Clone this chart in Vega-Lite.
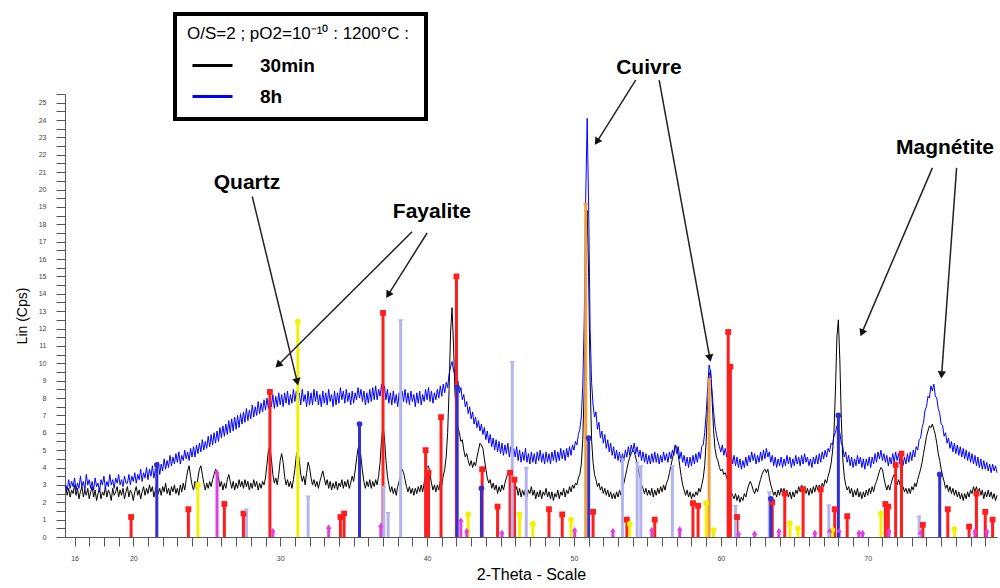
{
"$schema":"https://vega.github.io/schema/vega-lite/v6.json",
"width":932,"height":443,
"autosize":{"type":"none"},
"padding":{"left":65,"top":94,"right":3,"bottom":51},
"background":"white",
"config":{"font":"Liberation Sans","view":{"stroke":null}},
"datasets":{
"xrd":[
{"t":15.4,"b":2.9,"u":3.0},{"t":15.5,"b":2.4,"u":2.7},{"t":15.6,"b":2.8,"u":3.3},{"t":15.7,"b":2.3,"u":2.8},{"t":15.8,"b":2.7,"u":3.2},{"t":15.9,"b":2.5,"u":2.9},
{"t":16.0,"b":3.0,"u":3.4},{"t":16.1,"b":2.4,"u":2.7},{"t":16.2,"b":2.8,"u":3.1},{"t":16.3,"b":2.2,"u":2.8},{"t":16.4,"b":2.6,"u":3.5},{"t":16.5,"b":2.9,"u":2.9},{"t":16.6,"b":2.3,"u":3.2},{"t":16.7,"b":2.7,"u":2.7},{"t":16.8,"b":2.4,"u":3.6},{"t":16.9,"b":2.8,"u":3.0},
{"t":17.0,"b":2.2,"u":3.3},{"t":17.1,"b":2.6,"u":2.8},{"t":17.2,"b":2.9,"u":3.2},{"t":17.3,"b":2.3,"u":2.7},{"t":17.4,"b":2.7,"u":3.4},{"t":17.5,"b":2.1,"u":2.9},{"t":17.6,"b":2.5,"u":3.1},{"t":17.7,"b":2.8,"u":2.6},{"t":17.8,"b":2.2,"u":3.3},{"t":17.9,"b":2.6,"u":3.0},
{"t":18.0,"b":2.4,"u":3.5},{"t":18.1,"b":2.9,"u":2.8},{"t":18.2,"b":2.3,"u":3.2},{"t":18.3,"b":2.7,"u":2.9},{"t":18.4,"b":2.5,"u":3.6},{"t":18.5,"b":2.1,"u":3.0},{"t":18.6,"b":2.8,"u":3.3},{"t":18.7,"b":2.4,"u":2.8},{"t":18.8,"b":2.6,"u":3.4},{"t":18.9,"b":2.9,"u":3.1},
{"t":19.0,"b":2.3,"u":3.6},{"t":19.1,"b":2.7,"u":3.0},{"t":19.2,"b":2.4,"u":3.3},{"t":19.3,"b":2.8,"u":2.9},{"t":19.4,"b":2.2,"u":3.5},{"t":19.5,"b":2.6,"u":3.1},{"t":19.6,"b":2.9,"u":3.1},{"t":19.7,"b":2.3,"u":3.6},{"t":19.8,"b":2.7,"u":3.0},{"t":19.9,"b":2.5,"u":3.5},
{"t":20.0,"b":2.1,"u":3.2},{"t":20.1,"b":2.6,"u":3.7},{"t":20.2,"b":2.9,"u":3.1},{"t":20.3,"b":2.4,"u":3.6},{"t":20.4,"b":2.7,"u":3.3},{"t":20.5,"b":2.2,"u":3.9},{"t":20.6,"b":2.6,"u":3.2},{"t":20.7,"b":2.9,"u":3.7},{"t":20.8,"b":2.4,"u":3.4},{"t":20.9,"b":2.8,"u":4.0},
{"t":21.0,"b":2.5,"u":3.3},{"t":21.1,"b":3.0,"u":3.9},{"t":21.2,"b":2.6,"u":3.5},{"t":21.3,"b":2.9,"u":4.1},{"t":21.4,"b":2.3,"u":3.4},{"t":21.5,"b":2.7,"u":3.9},{"t":21.6,"b":3.1,"u":3.7},{"t":21.7,"b":2.5,"u":4.3},{"t":21.8,"b":2.8,"u":3.6},{"t":21.9,"b":2.4,"u":4.2},
{"t":22.0,"b":2.9,"u":3.8},{"t":22.1,"b":2.6,"u":4.5},{"t":22.2,"b":3.1,"u":3.9},{"t":22.3,"b":2.5,"u":4.4},{"t":22.4,"b":2.8,"u":4.0},{"t":22.5,"b":2.4,"u":4.7},{"t":22.6,"b":2.9,"u":4.1},{"t":22.7,"b":2.6,"u":4.6},{"t":22.8,"b":3.0,"u":4.2},{"t":22.9,"b":2.5,"u":4.8},
{"t":23.0,"b":2.8,"u":4.3},{"t":23.1,"b":2.4,"u":4.9},{"t":23.2,"b":3.0,"u":4.2},{"t":23.3,"b":2.6,"u":4.7},{"t":23.4,"b":3.1,"u":4.4},{"t":23.5,"b":2.7,"u":5.0},{"t":23.6,"b":3.3,"u":4.5},{"t":23.7,"b":3.8,"u":4.9},{"t":23.8,"b":4.1,"u":4.4},{"t":23.9,"b":3.5,"u":5.1},
{"t":24.0,"b":3.0,"u":4.6},{"t":24.1,"b":2.7,"u":5.2},{"t":24.2,"b":3.2,"u":4.6},{"t":24.3,"b":2.8,"u":5.3},{"t":24.4,"b":3.4,"u":4.8},{"t":24.5,"b":3.9,"u":5.4},{"t":24.6,"b":4.1,"u":4.9},{"t":24.7,"b":3.6,"u":5.6},{"t":24.8,"b":3.1,"u":5.0},{"t":24.9,"b":2.7,"u":5.5},
{"t":25.0,"b":3.1,"u":5.1},{"t":25.1,"b":2.8,"u":5.8},{"t":25.2,"b":3.2,"u":5.2},{"t":25.3,"b":2.9,"u":5.9},{"t":25.4,"b":3.3,"u":5.3},{"t":25.5,"b":3.6,"u":6.0},{"t":25.6,"b":3.9,"u":5.4},{"t":25.7,"b":3.8,"u":6.1},{"t":25.8,"b":3.4,"u":5.5},{"t":25.9,"b":2.9,"u":6.3},
{"t":26.0,"b":3.2,"u":5.7},{"t":26.1,"b":2.7,"u":6.4},{"t":26.2,"b":3.1,"u":5.8},{"t":26.3,"b":2.8,"u":6.5},{"t":26.4,"b":3.3,"u":5.9},{"t":26.5,"b":3.6,"u":6.7},{"t":26.6,"b":3.2,"u":6.0},{"t":26.7,"b":2.8,"u":6.8},{"t":26.8,"b":3.2,"u":6.1},{"t":26.9,"b":2.7,"u":6.9},
{"t":27.0,"b":3.1,"u":6.2},{"t":27.1,"b":2.8,"u":7.0},{"t":27.2,"b":3.3,"u":6.3},{"t":27.3,"b":2.9,"u":7.1},{"t":27.4,"b":3.2,"u":6.5},{"t":27.5,"b":2.8,"u":7.2},{"t":27.6,"b":3.3,"u":6.6},{"t":27.7,"b":2.9,"u":7.4},{"t":27.8,"b":3.2,"u":6.7},{"t":27.9,"b":2.7,"u":7.3},
{"t":28.0,"b":3.1,"u":6.8},{"t":28.1,"b":2.8,"u":7.6},{"t":28.2,"b":3.3,"u":6.9},{"t":28.3,"b":2.9,"u":7.5},{"t":28.4,"b":3.2,"u":7.0},{"t":28.5,"b":2.7,"u":7.8},{"t":28.6,"b":3.1,"u":7.1},{"t":28.7,"b":2.8,"u":7.7},{"t":28.8,"b":3.2,"u":7.2},{"t":28.9,"b":3.0,"u":7.9},
{"t":29.0,"b":3.4,"u":7.3},{"t":29.1,"b":4.2,"u":8.0},{"t":29.2,"b":5.0,"u":7.4},{"t":29.3,"b":5.2,"u":8.1},{"t":29.4,"b":4.5,"u":7.5},{"t":29.5,"b":3.6,"u":8.2},{"t":29.6,"b":3.1,"u":7.4},{"t":29.7,"b":3.4,"u":8.1},{"t":29.8,"b":3.0,"u":7.5},{"t":29.9,"b":3.6,"u":8.3},
{"t":30.0,"b":4.4,"u":7.6},{"t":30.1,"b":4.8,"u":8.2},{"t":30.2,"b":4.3,"u":7.5},{"t":30.3,"b":3.5,"u":8.3},{"t":30.4,"b":3.0,"u":7.7},{"t":30.5,"b":3.3,"u":8.4},{"t":30.6,"b":2.9,"u":7.6},{"t":30.7,"b":3.2,"u":8.2},{"t":30.8,"b":2.8,"u":7.7},{"t":30.9,"b":3.3,"u":8.5},
{"t":31.0,"b":3.9,"u":7.8},{"t":31.1,"b":4.7,"u":8.4},{"t":31.2,"b":5.0,"u":7.7},{"t":31.3,"b":4.4,"u":8.3},{"t":31.4,"b":3.6,"u":7.6},{"t":31.5,"b":3.2,"u":8.5},{"t":31.6,"b":3.5,"u":7.8},{"t":31.7,"b":3.0,"u":8.2},{"t":31.8,"b":3.7,"u":7.5},{"t":31.9,"b":4.3,"u":8.4},
{"t":32.0,"b":4.0,"u":7.6},{"t":32.1,"b":3.4,"u":8.3},{"t":32.2,"b":3.0,"u":7.6},{"t":32.3,"b":3.3,"u":8.5},{"t":32.4,"b":2.9,"u":7.8},{"t":32.5,"b":3.2,"u":8.4},{"t":32.6,"b":2.8,"u":7.6},{"t":32.7,"b":3.2,"u":8.2},{"t":32.8,"b":3.5,"u":7.5},{"t":32.9,"b":3.8,"u":8.4},
{"t":33.0,"b":3.4,"u":7.7},{"t":33.1,"b":3.0,"u":8.3},{"t":33.2,"b":3.3,"u":7.6},{"t":33.3,"b":2.8,"u":8.5},{"t":33.4,"b":3.2,"u":7.8},{"t":33.5,"b":2.7,"u":8.2},{"t":33.6,"b":3.1,"u":7.5},{"t":33.7,"b":2.8,"u":8.4},{"t":33.8,"b":3.2,"u":7.6},{"t":33.9,"b":2.7,"u":8.3},
{"t":34.0,"b":3.1,"u":7.7},{"t":34.1,"b":2.9,"u":8.6},{"t":34.2,"b":3.3,"u":7.9},{"t":34.3,"b":2.8,"u":8.4},{"t":34.4,"b":3.2,"u":7.7},{"t":34.5,"b":2.9,"u":8.5},{"t":34.6,"b":3.3,"u":7.8},{"t":34.7,"b":2.8,"u":8.3},{"t":34.8,"b":3.1,"u":7.6},{"t":34.9,"b":3.5,"u":8.4},
{"t":35.0,"b":3.2,"u":7.7},{"t":35.1,"b":3.8,"u":8.3},{"t":35.2,"b":4.5,"u":7.9},{"t":35.3,"b":5.1,"u":8.6},{"t":35.4,"b":5.3,"u":8.0},{"t":35.5,"b":4.6,"u":8.5},{"t":35.6,"b":3.8,"u":7.8},{"t":35.7,"b":3.2,"u":8.4},{"t":35.8,"b":2.8,"u":7.6},{"t":35.9,"b":3.2,"u":8.3},
{"t":36.0,"b":2.9,"u":7.7},{"t":36.1,"b":3.3,"u":8.5},{"t":36.2,"b":2.8,"u":7.8},{"t":36.3,"b":3.2,"u":8.6},{"t":36.4,"b":2.9,"u":7.9},{"t":36.5,"b":3.3,"u":8.7},{"t":36.6,"b":3.0,"u":7.9},{"t":36.7,"b":3.5,"u":8.5},{"t":36.8,"b":4.3,"u":8.1},{"t":36.9,"b":5.6,"u":8.8},
{"t":37.0,"b":6.4,"u":8.2},{"t":37.1,"b":5.7,"u":8.7},{"t":37.2,"b":4.4,"u":7.9},{"t":37.3,"b":3.5,"u":8.5},{"t":37.4,"b":3.0,"u":7.7},{"t":37.5,"b":2.6,"u":8.3},{"t":37.6,"b":2.9,"u":7.6},{"t":37.7,"b":2.5,"u":8.4},{"t":37.8,"b":2.8,"u":7.7},{"t":37.9,"b":2.4,"u":8.2},
{"t":38.0,"b":2.9,"u":7.5},{"t":38.1,"b":3.2,"u":8.3},{"t":38.2,"b":3.6,"u":7.6},{"t":38.3,"b":3.9,"u":8.4},{"t":38.4,"b":3.7,"u":7.8},{"t":38.5,"b":3.3,"u":8.5},{"t":38.6,"b":2.9,"u":7.7},{"t":38.7,"b":2.6,"u":8.3},{"t":38.8,"b":2.9,"u":7.6},{"t":38.9,"b":2.5,"u":8.4},
{"t":39.0,"b":2.8,"u":7.8},{"t":39.1,"b":2.4,"u":8.2},{"t":39.2,"b":2.8,"u":7.5},{"t":39.3,"b":2.5,"u":8.3},{"t":39.4,"b":2.9,"u":7.7},{"t":39.5,"b":2.6,"u":8.4},{"t":39.6,"b":3.0,"u":7.6},{"t":39.7,"b":2.6,"u":8.2},{"t":39.8,"b":3.1,"u":7.8},{"t":39.9,"b":3.6,"u":8.5},
{"t":40.0,"b":4.0,"u":7.9},{"t":40.1,"b":4.1,"u":8.6},{"t":40.2,"b":3.6,"u":7.8},{"t":40.3,"b":3.1,"u":8.4},{"t":40.4,"b":2.7,"u":7.7},{"t":40.5,"b":3.0,"u":8.3},{"t":40.6,"b":2.6,"u":7.9},{"t":40.7,"b":3.0,"u":8.5},{"t":40.8,"b":2.7,"u":8.0},{"t":40.9,"b":3.2,"u":8.7},
{"t":41.0,"b":3.0,"u":8.1},{"t":41.1,"b":3.5,"u":8.8},{"t":41.2,"b":3.9,"u":8.3},{"t":41.3,"b":4.6,"u":8.9},{"t":41.4,"b":6.0,"u":8.6},{"t":41.5,"b":8.5,"u":9.4},{"t":41.6,"b":11.8,"u":9.8},{"t":41.7,"b":13.2,"u":10.1},{"t":41.8,"b":11.0,"u":9.6},{"t":41.9,"b":8.3,"u":9.3},
{"t":42.0,"b":6.8,"u":8.7},{"t":42.1,"b":6.3,"u":9.0},{"t":42.2,"b":6.0,"u":8.3},{"t":42.3,"b":5.5,"u":8.6},{"t":42.4,"b":5.6,"u":7.9},{"t":42.5,"b":5.0,"u":8.2},{"t":42.6,"b":4.6,"u":7.5},{"t":42.7,"b":4.8,"u":7.8},{"t":42.8,"b":4.4,"u":7.1},{"t":42.9,"b":4.1,"u":7.5},
{"t":43.0,"b":4.4,"u":6.8},{"t":43.1,"b":4.0,"u":7.2},{"t":43.2,"b":4.3,"u":6.5},{"t":43.3,"b":4.1,"u":6.9},{"t":43.4,"b":4.6,"u":6.3},{"t":43.5,"b":5.0,"u":6.7},{"t":43.6,"b":5.4,"u":6.1},{"t":43.7,"b":5.3,"u":6.5},{"t":43.8,"b":5.1,"u":5.9},{"t":43.9,"b":4.5,"u":6.3},
{"t":44.0,"b":3.9,"u":5.6},{"t":44.1,"b":3.4,"u":6.1},{"t":44.2,"b":3.1,"u":5.4},{"t":44.3,"b":3.3,"u":5.9},{"t":44.4,"b":2.8,"u":5.2},{"t":44.5,"b":3.1,"u":5.7},{"t":44.6,"b":2.7,"u":5.0},{"t":44.7,"b":3.0,"u":5.6},{"t":44.8,"b":2.5,"u":4.9},{"t":44.9,"b":2.9,"u":5.5},
{"t":45.0,"b":2.6,"u":4.8},{"t":45.1,"b":3.0,"u":5.4},{"t":45.2,"b":2.7,"u":4.7},{"t":45.3,"b":3.1,"u":5.3},{"t":45.4,"b":3.4,"u":4.8},{"t":45.5,"b":3.7,"u":5.4},{"t":45.6,"b":3.6,"u":4.6},{"t":45.7,"b":3.2,"u":5.2},{"t":45.8,"b":2.8,"u":4.5},{"t":45.9,"b":3.1,"u":5.1},
{"t":46.0,"b":2.6,"u":4.6},{"t":46.1,"b":2.9,"u":5.2},{"t":46.2,"b":2.4,"u":4.4},{"t":46.3,"b":2.8,"u":5.0},{"t":46.4,"b":2.3,"u":4.3},{"t":46.5,"b":2.7,"u":4.9},{"t":46.6,"b":2.4,"u":4.4},{"t":46.7,"b":2.8,"u":5.1},{"t":46.8,"b":2.3,"u":4.3},{"t":46.9,"b":2.7,"u":4.8},
{"t":47.0,"b":2.5,"u":4.2},{"t":47.1,"b":2.9,"u":4.9},{"t":47.2,"b":2.4,"u":4.3},{"t":47.3,"b":2.7,"u":4.8},{"t":47.4,"b":2.2,"u":4.2},{"t":47.5,"b":2.6,"u":4.9},{"t":47.6,"b":2.3,"u":4.4},{"t":47.7,"b":2.7,"u":5.0},{"t":47.8,"b":2.2,"u":4.3},{"t":47.9,"b":2.6,"u":4.8},
{"t":48.0,"b":2.4,"u":4.2},{"t":48.1,"b":2.8,"u":4.9},{"t":48.2,"b":2.3,"u":4.3},{"t":48.3,"b":2.6,"u":4.8},{"t":48.4,"b":2.2,"u":4.2},{"t":48.5,"b":2.6,"u":4.9},{"t":48.6,"b":2.1,"u":4.4},{"t":48.7,"b":2.5,"u":5.0},{"t":48.8,"b":2.3,"u":4.3},{"t":48.9,"b":2.7,"u":4.9},
{"t":49.0,"b":2.2,"u":4.4},{"t":49.1,"b":2.6,"u":5.1},{"t":49.2,"b":2.4,"u":4.5},{"t":49.3,"b":2.8,"u":5.0},{"t":49.4,"b":2.3,"u":4.4},{"t":49.5,"b":2.7,"u":5.1},{"t":49.6,"b":2.5,"u":4.6},{"t":49.7,"b":2.9,"u":5.2},{"t":49.8,"b":2.6,"u":4.7},{"t":49.9,"b":3.0,"u":5.3},
{"t":50.0,"b":2.8,"u":5.0},{"t":50.1,"b":3.1,"u":5.5},{"t":50.2,"b":3.0,"u":5.3},{"t":50.3,"b":3.4,"u":5.9},{"t":50.4,"b":3.6,"u":6.2},{"t":50.5,"b":4.2,"u":6.9},{"t":50.6,"b":5.6,"u":8.7},{"t":50.7,"b":8.6,"u":12.5},{"t":50.8,"b":14.5,"u":19.5},{"t":50.9,"b":18.8,"u":24.1},
{"t":51.0,"b":15.0,"u":19.0},{"t":51.1,"b":9.0,"u":12.0},{"t":51.2,"b":5.6,"u":8.9},{"t":51.3,"b":4.3,"u":7.6},{"t":51.4,"b":3.6,"u":6.9},{"t":51.5,"b":3.3,"u":7.2},{"t":51.6,"b":2.9,"u":6.2},{"t":51.7,"b":3.1,"u":6.6},{"t":51.8,"b":2.7,"u":5.7},{"t":51.9,"b":2.9,"u":6.1},
{"t":52.0,"b":2.5,"u":5.4},{"t":52.1,"b":2.8,"u":5.9},{"t":52.2,"b":2.4,"u":5.1},{"t":52.3,"b":2.7,"u":5.6},{"t":52.4,"b":2.3,"u":4.9},{"t":52.5,"b":2.6,"u":5.4},{"t":52.6,"b":2.2,"u":4.7},{"t":52.7,"b":2.5,"u":5.2},{"t":52.8,"b":2.2,"u":4.5},{"t":52.9,"b":2.6,"u":5.0},
{"t":53.0,"b":2.3,"u":4.4},{"t":53.1,"b":2.7,"u":4.9},{"t":53.2,"b":2.4,"u":4.3},{"t":53.3,"b":2.8,"u":4.8},{"t":53.4,"b":3.1,"u":4.4},{"t":53.5,"b":3.5,"u":5.0},{"t":53.6,"b":3.9,"u":4.6},{"t":53.7,"b":4.3,"u":5.2},{"t":53.8,"b":4.6,"u":4.7},{"t":53.9,"b":4.8,"u":5.3},
{"t":54.0,"b":5.0,"u":4.9},{"t":54.1,"b":4.9,"u":5.4},{"t":54.2,"b":4.6,"u":4.8},{"t":54.3,"b":4.2,"u":5.2},{"t":54.4,"b":3.8,"u":4.6},{"t":54.5,"b":3.4,"u":5.0},{"t":54.6,"b":3.0,"u":4.4},{"t":54.7,"b":2.8,"u":4.9},{"t":54.8,"b":2.5,"u":4.3},{"t":54.9,"b":2.8,"u":4.8},
{"t":55.0,"b":2.4,"u":4.2},{"t":55.1,"b":2.7,"u":4.7},{"t":55.2,"b":2.4,"u":4.2},{"t":55.3,"b":2.8,"u":4.8},{"t":55.4,"b":2.3,"u":4.3},{"t":55.5,"b":2.7,"u":4.9},{"t":55.6,"b":2.4,"u":4.3},{"t":55.7,"b":2.8,"u":4.8},{"t":55.8,"b":2.5,"u":4.2},{"t":55.9,"b":2.9,"u":4.7},
{"t":56.0,"b":2.6,"u":4.3},{"t":56.1,"b":3.0,"u":4.9},{"t":56.2,"b":2.7,"u":4.4},{"t":56.3,"b":3.1,"u":4.8},{"t":56.4,"b":3.3,"u":4.3},{"t":56.5,"b":3.7,"u":4.9},{"t":56.6,"b":4.1,"u":4.5},{"t":56.7,"b":4.5,"u":5.0},{"t":56.8,"b":4.9,"u":4.7},{"t":56.9,"b":5.3,"u":5.3},
{"t":57.0,"b":5.2,"u":4.8},{"t":57.1,"b":4.7,"u":5.2},{"t":57.2,"b":4.1,"u":4.5},{"t":57.3,"b":3.5,"u":4.9},{"t":57.4,"b":3.0,"u":4.3},{"t":57.5,"b":2.7,"u":4.7},{"t":57.6,"b":2.4,"u":4.1},{"t":57.7,"b":2.7,"u":4.6},{"t":57.8,"b":2.3,"u":4.0},{"t":57.9,"b":2.6,"u":4.6},
{"t":58.0,"b":2.2,"u":4.1},{"t":58.1,"b":2.5,"u":4.7},{"t":58.2,"b":2.3,"u":4.2},{"t":58.3,"b":2.6,"u":4.8},{"t":58.4,"b":2.4,"u":4.3},{"t":58.5,"b":2.8,"u":4.9},{"t":58.6,"b":2.6,"u":4.5},{"t":58.7,"b":3.0,"u":5.2},{"t":58.8,"b":3.4,"u":5.3},{"t":58.9,"b":4.1,"u":6.0},
{"t":59.0,"b":5.5,"u":7.1},{"t":59.1,"b":7.6,"u":8.6},{"t":59.2,"b":9.3,"u":9.9},{"t":59.3,"b":9.6,"u":9.5},{"t":59.4,"b":8.0,"u":8.4},{"t":59.5,"b":6.2,"u":7.3},{"t":59.6,"b":5.1,"u":6.4},{"t":59.7,"b":4.6,"u":5.9},{"t":59.8,"b":4.4,"u":5.5},{"t":59.9,"b":4.0,"u":5.2},
{"t":60.0,"b":3.8,"u":4.9},{"t":60.1,"b":3.9,"u":5.3},{"t":60.2,"b":3.6,"u":4.7},{"t":60.3,"b":3.7,"u":5.1},{"t":60.4,"b":3.4,"u":4.6},{"t":60.5,"b":3.2,"u":5.0},{"t":60.6,"b":2.9,"u":4.3},{"t":60.7,"b":2.6,"u":4.8},{"t":60.8,"b":2.4,"u":4.2},{"t":60.9,"b":2.2,"u":4.7},
{"t":61.0,"b":2.5,"u":4.1},{"t":61.1,"b":2.1,"u":4.6},{"t":61.2,"b":2.4,"u":4.0},{"t":61.3,"b":2.0,"u":4.5},{"t":61.4,"b":2.3,"u":3.9},{"t":61.5,"b":2.1,"u":4.4},{"t":61.6,"b":2.5,"u":4.0},{"t":61.7,"b":2.3,"u":4.6},{"t":61.8,"b":2.7,"u":4.1},{"t":61.9,"b":3.0,"u":4.7},
{"t":62.0,"b":3.2,"u":4.3},{"t":62.1,"b":3.0,"u":4.9},{"t":62.2,"b":2.7,"u":4.4},{"t":62.3,"b":2.5,"u":4.8},{"t":62.4,"b":2.8,"u":4.2},{"t":62.5,"b":2.6,"u":4.7},{"t":62.6,"b":3.0,"u":4.3},{"t":62.7,"b":3.3,"u":4.9},{"t":62.8,"b":3.6,"u":4.4},{"t":62.9,"b":3.8,"u":5.0},
{"t":63.0,"b":3.9,"u":4.5},{"t":63.1,"b":3.7,"u":5.1},{"t":63.2,"b":3.9,"u":4.6},{"t":63.3,"b":3.4,"u":4.9},{"t":63.4,"b":3.0,"u":4.3},{"t":63.5,"b":2.7,"u":4.7},{"t":63.6,"b":2.4,"u":4.1},{"t":63.7,"b":2.6,"u":4.6},{"t":63.8,"b":2.3,"u":4.0},{"t":63.9,"b":2.7,"u":4.5},
{"t":64.0,"b":2.4,"u":4.1},{"t":64.1,"b":2.8,"u":4.6},{"t":64.2,"b":2.5,"u":4.0},{"t":64.3,"b":2.8,"u":4.5},{"t":64.4,"b":2.4,"u":4.1},{"t":64.5,"b":2.7,"u":4.7},{"t":64.6,"b":2.3,"u":4.2},{"t":64.7,"b":2.6,"u":4.6},{"t":64.8,"b":2.2,"u":4.0},{"t":64.9,"b":2.6,"u":4.5},
{"t":65.0,"b":2.3,"u":4.1},{"t":65.1,"b":2.7,"u":4.7},{"t":65.2,"b":2.5,"u":4.2},{"t":65.3,"b":2.9,"u":4.6},{"t":65.4,"b":2.6,"u":4.1},{"t":65.5,"b":3.0,"u":4.7},{"t":65.6,"b":2.7,"u":4.2},{"t":65.7,"b":2.9,"u":4.8},{"t":65.8,"b":2.5,"u":4.3},{"t":65.9,"b":2.8,"u":4.6},
{"t":66.0,"b":2.4,"u":4.1},{"t":66.1,"b":2.8,"u":4.5},{"t":66.2,"b":2.5,"u":4.0},{"t":66.3,"b":2.9,"u":4.6},{"t":66.4,"b":2.6,"u":4.2},{"t":66.5,"b":3.0,"u":4.7},{"t":66.6,"b":2.7,"u":4.2},{"t":66.7,"b":3.0,"u":4.8},{"t":66.8,"b":2.7,"u":4.3},{"t":66.9,"b":3.1,"u":4.9},
{"t":67.0,"b":2.9,"u":4.5},{"t":67.1,"b":3.3,"u":5.0},{"t":67.2,"b":3.1,"u":4.6},{"t":67.3,"b":3.5,"u":5.1},{"t":67.4,"b":3.8,"u":4.9},{"t":67.5,"b":4.2,"u":5.4},{"t":67.6,"b":4.9,"u":5.3},{"t":67.7,"b":6.0,"u":5.8},{"t":67.8,"b":8.4,"u":6.0},{"t":67.9,"b":11.5,"u":6.4},
{"t":68.0,"b":12.5,"u":6.2},{"t":68.1,"b":10.2,"u":6.0},{"t":68.2,"b":6.8,"u":5.4},{"t":68.3,"b":4.5,"u":5.2},{"t":68.4,"b":3.5,"u":4.6},{"t":68.5,"b":3.0,"u":4.9},{"t":68.6,"b":2.7,"u":4.3},{"t":68.7,"b":2.9,"u":4.7},{"t":68.8,"b":2.5,"u":4.1},{"t":68.9,"b":2.8,"u":4.6},
{"t":69.0,"b":2.3,"u":4.0},{"t":69.1,"b":2.7,"u":4.5},{"t":69.2,"b":2.4,"u":4.1},{"t":69.3,"b":2.8,"u":4.7},{"t":69.4,"b":2.3,"u":4.2},{"t":69.5,"b":2.6,"u":4.6},{"t":69.6,"b":2.2,"u":4.0},{"t":69.7,"b":2.6,"u":4.5},{"t":69.8,"b":2.3,"u":3.9},{"t":69.9,"b":2.7,"u":4.5},
{"t":70.0,"b":2.4,"u":4.1},{"t":70.1,"b":2.8,"u":4.6},{"t":70.2,"b":2.5,"u":4.0},{"t":70.3,"b":2.9,"u":4.6},{"t":70.4,"b":2.6,"u":4.2},{"t":70.5,"b":3.0,"u":4.8},{"t":70.6,"b":3.2,"u":4.3},{"t":70.7,"b":3.5,"u":4.9},{"t":70.8,"b":3.8,"u":4.5},{"t":70.9,"b":4.0,"u":5.0},
{"t":71.0,"b":3.9,"u":4.4},{"t":71.1,"b":3.4,"u":4.8},{"t":71.2,"b":3.0,"u":4.3},{"t":71.3,"b":2.7,"u":4.7},{"t":71.4,"b":3.0,"u":4.1},{"t":71.5,"b":2.7,"u":4.6},{"t":71.6,"b":3.1,"u":4.2},{"t":71.7,"b":3.4,"u":4.8},{"t":71.8,"b":3.6,"u":4.3},{"t":71.9,"b":3.4,"u":4.9},
{"t":72.0,"b":3.0,"u":4.4},{"t":72.1,"b":3.3,"u":4.8},{"t":72.2,"b":3.0,"u":4.2},{"t":72.3,"b":2.7,"u":4.7},{"t":72.4,"b":2.9,"u":4.1},{"t":72.5,"b":2.6,"u":4.6},{"t":72.6,"b":2.8,"u":4.2},{"t":72.7,"b":2.5,"u":4.8},{"t":72.8,"b":2.8,"u":4.3},{"t":72.9,"b":2.5,"u":4.9},
{"t":73.0,"b":2.9,"u":4.4},{"t":73.1,"b":2.7,"u":5.0},{"t":73.2,"b":3.1,"u":4.6},{"t":73.3,"b":2.9,"u":5.2},{"t":73.4,"b":3.3,"u":5.0},{"t":73.5,"b":3.6,"u":5.6},{"t":73.6,"b":3.9,"u":5.7},{"t":73.7,"b":4.3,"u":6.3},{"t":73.8,"b":4.8,"u":6.6},{"t":73.9,"b":5.3,"u":7.3},
{"t":74.0,"b":5.8,"u":7.5},{"t":74.1,"b":6.1,"u":8.1},{"t":74.2,"b":6.4,"u":8.0},{"t":74.3,"b":6.3,"u":8.7},{"t":74.4,"b":6.5,"u":8.4},{"t":74.5,"b":6.2,"u":8.8},{"t":74.6,"b":5.9,"u":8.1},{"t":74.7,"b":5.4,"u":8.0},{"t":74.8,"b":4.8,"u":7.4},{"t":74.9,"b":4.4,"u":7.1},
{"t":75.0,"b":3.9,"u":6.5},{"t":75.1,"b":3.5,"u":6.4},{"t":75.2,"b":3.2,"u":5.8},{"t":75.3,"b":2.8,"u":6.0},{"t":75.4,"b":3.0,"u":5.4},{"t":75.5,"b":2.6,"u":5.7},{"t":75.6,"b":2.9,"u":5.1},{"t":75.7,"b":2.5,"u":5.5},{"t":75.8,"b":2.8,"u":4.9},{"t":75.9,"b":2.4,"u":5.4},
{"t":76.0,"b":2.7,"u":4.8},{"t":76.1,"b":2.3,"u":5.3},{"t":76.2,"b":2.6,"u":4.7},{"t":76.3,"b":2.2,"u":5.2},{"t":76.4,"b":2.5,"u":4.6},{"t":76.5,"b":2.1,"u":5.1},{"t":76.6,"b":2.5,"u":4.5},{"t":76.7,"b":2.2,"u":5.0},{"t":76.8,"b":2.6,"u":4.4},{"t":76.9,"b":2.3,"u":4.9},
{"t":77.0,"b":2.7,"u":4.3},{"t":77.1,"b":2.5,"u":4.8},{"t":77.2,"b":2.9,"u":4.2},{"t":77.3,"b":2.6,"u":4.7},{"t":77.4,"b":2.9,"u":4.1},{"t":77.5,"b":2.5,"u":4.6},{"t":77.6,"b":2.8,"u":4.0},{"t":77.7,"b":2.4,"u":4.5},{"t":77.8,"b":2.7,"u":3.9},{"t":77.9,"b":2.2,"u":4.4},
{"t":78.0,"b":2.6,"u":3.9},{"t":78.1,"b":2.3,"u":4.3},{"t":78.2,"b":2.7,"u":3.8},{"t":78.3,"b":2.3,"u":4.2},{"t":78.4,"b":2.6,"u":3.7},{"t":78.5,"b":2.2,"u":4.2},{"t":78.6,"b":2.5,"u":3.8},{"t":78.7,"b":2.1,"u":4.1},{"t":78.8,"b":2.4,"u":3.7}
],
"sticks":[
{"t":19.85,"h":1.15,"p":"fayalite"},{"t":23.75,"h":1.6,"p":"fayalite"},{"t":26.2,"h":1.9,"p":"fayalite"},{"t":27.5,"h":1.35,"p":"fayalite"},{"t":29.3,"h":8.35,"p":"fayalite"},{"t":34.1,"h":1.15,"p":"fayalite"},{"t":34.35,"h":1.35,"p":"fayalite"},{"t":37.0,"h":12.9,"p":"fayalite"},{"t":39.9,"h":5.0,"p":"fayalite"},{"t":40.1,"h":3.7,"p":"fayalite"},{"t":40.95,"h":6.9,"p":"fayalite"},{"t":42.0,"h":15.0,"p":"fayalite"},{"t":43.75,"h":3.9,"p":"fayalite"},{"t":44.8,"h":1.75,"p":"fayalite"},{"t":45.65,"h":3.7,"p":"fayalite"},{"t":45.95,"h":3.3,"p":"fayalite"},{"t":48.3,"h":1.6,"p":"fayalite"},{"t":49.2,"h":1.3,"p":"fayalite"},{"t":51.3,"h":1.45,"p":"fayalite"},{"t":53.6,"h":1.0,"p":"fayalite"},{"t":55.5,"h":1.0,"p":"fayalite"},{"t":58.1,"h":1.95,"p":"fayalite"},{"t":58.45,"h":1.8,"p":"fayalite"},{"t":60.5,"h":11.8,"p":"fayalite"},{"t":60.65,"h":9.8,"p":"fayalite"},{"t":61.1,"h":1.15,"p":"fayalite"},{"t":63.5,"h":2.0,"p":"fayalite"},{"t":64.35,"h":2.5,"p":"fayalite"},{"t":65.6,"h":2.75,"p":"fayalite"},{"t":66.8,"h":2.75,"p":"fayalite"},{"t":67.75,"h":1.6,"p":"fayalite"},{"t":68.6,"h":1.2,"p":"fayalite"},{"t":71.2,"h":1.9,"p":"fayalite"},{"t":71.4,"h":1.75,"p":"fayalite"},{"t":71.9,"h":4.15,"p":"fayalite"},{"t":72.3,"h":4.8,"p":"fayalite"},{"t":73.75,"h":0.7,"p":"fayalite"},{"t":75.45,"h":1.6,"p":"fayalite"},{"t":76.9,"h":0.6,"p":"fayalite"},{"t":77.4,"h":2.5,"p":"fayalite"},{"t":78.0,"h":1.45,"p":"fayalite"},{"t":78.5,"h":1.0,"p":"fayalite"},
{"t":24.4,"h":3.0,"p":"quartz"},{"t":31.2,"h":12.4,"p":"quartz"},{"t":42.8,"h":1.3,"p":"quartz"},{"t":46.3,"h":1.3,"p":"quartz"},{"t":47.2,"h":0.75,"p":"quartz"},{"t":49.8,"h":1.0,"p":"quartz"},{"t":53.8,"h":0.75,"p":"quartz"},{"t":59.0,"h":1.95,"p":"quartz"},{"t":59.5,"h":0.4,"p":"quartz"},{"t":64.7,"h":0.8,"p":"quartz"},{"t":65.25,"h":0.5,"p":"quartz"},{"t":67.6,"h":0.4,"p":"quartz"},{"t":70.9,"h":1.35,"p":"quartz"},{"t":75.9,"h":0.45,"p":"quartz"},
{"t":25.7,"h":3.75,"p":"phaseA"},{"t":29.5,"h":0.4,"p":"phaseA"},{"t":33.3,"h":0.6,"p":"phaseA"},{"t":36.85,"h":0.7,"p":"phaseA"},{"t":42.3,"h":1.0,"p":"phaseA"},{"t":42.7,"h":0.4,"p":"phaseA"},{"t":45.1,"h":0.3,"p":"phaseA"},{"t":50.05,"h":0.45,"p":"phaseA"},{"t":52.65,"h":0.4,"p":"phaseA"},{"t":55.3,"h":0.45,"p":"phaseA"},{"t":57.2,"h":0.5,"p":"phaseA"},{"t":61.2,"h":0.25,"p":"phaseA"},{"t":62.3,"h":0.25,"p":"phaseA"},{"t":63.95,"h":0.4,"p":"phaseA"},{"t":66.4,"h":0.3,"p":"phaseA"},{"t":67.4,"h":0.4,"p":"phaseA"},{"t":68.05,"h":0.4,"p":"phaseA"},{"t":69.4,"h":0.3,"p":"phaseA"},{"t":69.65,"h":0.3,"p":"phaseA"},{"t":71.45,"h":0.4,"p":"phaseA"},{"t":73.6,"h":0.3,"p":"phaseA"},{"t":77.3,"h":0.4,"p":"phaseA"},{"t":78.1,"h":0.4,"p":"phaseA"},
{"t":27.7,"h":1.5,"p":"phaseB"},{"t":31.9,"h":2.25,"p":"phaseB"},{"t":37.05,"h":2.8,"p":"phaseB"},{"t":37.35,"h":1.3,"p":"phaseB"},{"t":38.2,"h":12.4,"p":"phaseB"},{"t":45.8,"h":10.0,"p":"phaseB"},{"t":46.75,"h":3.9,"p":"phaseB"},{"t":53.3,"h":4.4,"p":"phaseB"},{"t":54.3,"h":4.2,"p":"phaseB"},{"t":54.55,"h":4.0,"p":"phaseB"},{"t":56.7,"h":4.0,"p":"phaseB"},{"t":61.0,"h":1.7,"p":"phaseB"},{"t":63.3,"h":2.5,"p":"phaseB"},{"t":67.35,"h":1.75,"p":"phaseB"},{"t":73.5,"h":1.1,"p":"phaseB"},
{"t":21.6,"h":4.15,"p":"magnetite"},{"t":35.4,"h":6.5,"p":"magnetite"},{"t":42.05,"h":8.6,"p":"magnetite"},{"t":43.7,"h":2.8,"p":"magnetite"},{"t":51.0,"h":5.7,"p":"magnetite"},{"t":63.4,"h":2.2,"p":"magnetite"},{"t":68.0,"h":7.0,"p":"magnetite"},{"t":74.9,"h":3.6,"p":"magnetite"},
{"t":50.8,"h":19.1,"p":"cuivre"},{"t":59.2,"h":9.0,"p":"cuivre"}
],
"notes":[
{"lab":"Quartz","t":27.74,"y":20.38},
{"lab":"Fayalite","t":40.33,"y":18.71},
{"lab":"Cuivre","t":55.1,"y":27.0},
{"lab":"Magnétite","t":75.26,"y":22.39}
],
"arrows":[
{"t":28.1,"y":19.6,"t2":31.16,"y2":8.93},
{"t":38.98,"y":17.57,"t2":29.86,"y2":9.9},
{"t":40.0,"y":17.5,"t2":37.35,"y2":13.94},
{"t":54.2,"y":26.3,"t2":51.56,"y2":22.75},
{"t":55.8,"y":26.3,"t2":59.25,"y2":10.3},
{"t":74.4,"y":21.25,"t2":69.6,"y2":11.75},
{"t":76.05,"y":21.25,"t2":75.03,"y2":9.33}
]
},
"layer":[
{"data":{"name":"xrd"},
 "transform":[{"fold":["b","u"],"as":["s","v"]}],
 "mark":{"type":"line","strokeWidth":1},
 "encoding":{
  "x":{"field":"t","type":"quantitative","scale":{"domain":[15.35,78.8],"nice":false,"zero":false},
   "axis":{"title":"2-Theta - Scale","titleFontSize":16,"titleFontWeight":"normal","titleColor":"#000","titlePadding":5,
    "values":[16,17,18,19,20,21,22,23,24,25,26,27,28,29,30,31,32,33,34,35,36,37,38,39,40,41,42,43,44,45,46,47,48,49,50,51,52,53,54,55,56,57,58,59,60,61,62,63,64,65,66,67,68,69,70,71,72,73,74,75,76,77,78],
    "labelExpr":"(datum.value == 16 || datum.value % 10 == 0) ? datum.label : ''",
    "labelOverlap":false,"labelFlush":false,"labelFontSize":7,"labelColor":"#444","labelPadding":8,
    "ticks":true,"tickSize":9,"tickColor":"#555","domainColor":"#555","grid":false,
    "encode":{"ticks":{"update":{"y2":{"signal":"datum.value % 5 === 0 ? 9 : 5"}}}}}},
  "y":{"field":"v","type":"quantitative","scale":{"domain":[0,25.5],"nice":false},
   "axis":{"title":"Lin (Cps)","titleFontSize":14,"titleFontWeight":"normal","titleColor":"#000","titlePadding":9,
    "values":[0,0.5,1,1.5,2,2.5,3,3.5,4,4.5,5,5.5,6,6.5,7,7.5,8,8.5,9,9.5,10,10.5,11,11.5,12,12.5,13,13.5,14,14.5,15,15.5,16,16.5,17,17.5,18,18.5,19,19.5,20,20.5,21,21.5,22,22.5,23,23.5,24,24.5,25,25.5],
    "labelExpr":"datum.value % 1 == 0 ? format(datum.value, 'd') : ''",
    "labelOverlap":false,"labelFlush":false,"labelFontSize":7,"labelColor":"#444","labelPadding":10,
    "ticks":true,"tickSize":9,"tickColor":"#555","domainColor":"#555","grid":false,
    "encode":{"ticks":{"update":{"x2":{"signal":"datum.value % 1 === 0 ? -9 : -5"}}}}}},
  "color":{"field":"s","type":"nominal","scale":{"domain":["b","u"],"range":["#000000","#0000ff"]},
   "legend":{"orient":"none","legendX":110,"legendY":-80,
    "title":"O/S=2 ;  pO2=10⁻¹⁰ : 1200°C :","titleFontSize":17,"titleFontWeight":"normal","titleColor":"#000","titlePadding":13,"titleLimit":400,
    "labelExpr":"datum.label == 'b' ? '30min' : '8h'","labelFontSize":19,"labelFontWeight":"bold","labelColor":"#000",
    "symbolType":"M-4,0H4","symbolSize":100,"symbolStrokeWidth":3,"symbolOffset":16,"labelOffset":38,
    "rowPadding":11,"padding":12,"strokeColor":"#000","fillColor":"#fff",
    "encode":{"legend":{"update":{"strokeWidth":{"value":4}}}}}}
 }},
{"data":{"name":"sticks"},
 "mark":{"type":"rule"},
 "encoding":{
  "x":{"field":"t","type":"quantitative","axis":{"title":"2-Theta - Scale","titleFontSize":16,"titleFontWeight":"normal","titleColor":"#000","titlePadding":5,
    "values":[16,17,18,19,20,21,22,23,24,25,26,27,28,29,30,31,32,33,34,35,36,37,38,39,40,41,42,43,44,45,46,47,48,49,50,51,52,53,54,55,56,57,58,59,60,61,62,63,64,65,66,67,68,69,70,71,72,73,74,75,76,77,78],
    "labelExpr":"(datum.value == 16 || datum.value % 10 == 0) ? datum.label : ''",
    "labelOverlap":false,"labelFlush":false,"labelFontSize":7,"labelColor":"#444","labelPadding":8,
    "ticks":true,"tickSize":9,"tickColor":"#555","domainColor":"#555","grid":false,
    "encode":{"ticks":{"update":{"y2":{"signal":"datum.value % 5 === 0 ? 9 : 5"}}}}}},
  "y":{"field":"h","type":"quantitative","axis":{"title":"Lin (Cps)","titleFontSize":14,"titleFontWeight":"normal","titleColor":"#000","titlePadding":9,
    "values":[0,0.5,1,1.5,2,2.5,3,3.5,4,4.5,5,5.5,6,6.5,7,7.5,8,8.5,9,9.5,10,10.5,11,11.5,12,12.5,13,13.5,14,14.5,15,15.5,16,16.5,17,17.5,18,18.5,19,19.5,20,20.5,21,21.5,22,22.5,23,23.5,24,24.5,25,25.5],
    "labelExpr":"datum.value % 1 == 0 ? format(datum.value, 'd') : ''",
    "labelOverlap":false,"labelFlush":false,"labelFontSize":7,"labelColor":"#444","labelPadding":10,
    "ticks":true,"tickSize":9,"tickColor":"#555","domainColor":"#555","grid":false,
    "encode":{"ticks":{"update":{"x2":{"signal":"datum.value % 1 === 0 ? -9 : -5"}}}}}},
  "y2":{"datum":0},
  "color":{"field":"p","type":"nominal","legend":null,"scale":{"domain":["fayalite","quartz","magnetite","cuivre","phaseA","phaseB"],"range":["#ff1e1e","#f2f200","#3030d0","#f0a040","#e040e0","#b4b4f0"]}},
  "strokeWidth":{"field":"p","type":"nominal","legend":null,"scale":{"domain":["fayalite","quartz","magnetite","cuivre","phaseA","phaseB"],"range":[3,3,2.5,3,2,2]}}
 }},
{"data":{"name":"sticks"},
 "mark":{"type":"point","filled":true,"opacity":1},
 "encoding":{
  "x":{"field":"t","type":"quantitative","axis":{"title":"2-Theta - Scale","titleFontSize":16,"titleFontWeight":"normal","titleColor":"#000","titlePadding":5,
    "values":[16,17,18,19,20,21,22,23,24,25,26,27,28,29,30,31,32,33,34,35,36,37,38,39,40,41,42,43,44,45,46,47,48,49,50,51,52,53,54,55,56,57,58,59,60,61,62,63,64,65,66,67,68,69,70,71,72,73,74,75,76,77,78],
    "labelExpr":"(datum.value == 16 || datum.value % 10 == 0) ? datum.label : ''",
    "labelOverlap":false,"labelFlush":false,"labelFontSize":7,"labelColor":"#444","labelPadding":8,
    "ticks":true,"tickSize":9,"tickColor":"#555","domainColor":"#555","grid":false,
    "encode":{"ticks":{"update":{"y2":{"signal":"datum.value % 5 === 0 ? 9 : 5"}}}}}},
  "y":{"field":"h","type":"quantitative","axis":{"title":"Lin (Cps)","titleFontSize":14,"titleFontWeight":"normal","titleColor":"#000","titlePadding":9,
    "values":[0,0.5,1,1.5,2,2.5,3,3.5,4,4.5,5,5.5,6,6.5,7,7.5,8,8.5,9,9.5,10,10.5,11,11.5,12,12.5,13,13.5,14,14.5,15,15.5,16,16.5,17,17.5,18,18.5,19,19.5,20,20.5,21,21.5,22,22.5,23,23.5,24,24.5,25,25.5],
    "labelExpr":"datum.value % 1 == 0 ? format(datum.value, 'd') : ''",
    "labelOverlap":false,"labelFlush":false,"labelFontSize":7,"labelColor":"#444","labelPadding":10,
    "ticks":true,"tickSize":9,"tickColor":"#555","domainColor":"#555","grid":false,
    "encode":{"ticks":{"update":{"x2":{"signal":"datum.value % 1 === 0 ? -9 : -5"}}}}}},
  "color":{"field":"p","type":"nominal","legend":null,"scale":{"domain":["fayalite","quartz","magnetite","cuivre","phaseA","phaseB"],"range":["#ff1e1e","#f2f200","#3030d0","#f0a040","#e040e0","#b4b4f0"]}},
  "shape":{"field":"p","type":"nominal","legend":null,"scale":{"domain":["fayalite","quartz","magnetite","cuivre","phaseA","phaseB"],"range":["square","circle","circle","triangle-down","triangle-up","triangle-down"]}},
  "size":{"field":"p","type":"nominal","legend":null,"scale":{"domain":["fayalite","quartz","magnetite","cuivre","phaseA","phaseB"],"range":[34,30,18,20,34,30]}}
 }},
{"data":{"name":"arrows"},
 "mark":{"type":"rule","color":"#222","strokeWidth":1.5},
 "encoding":{
  "x":{"field":"t","type":"quantitative","axis":{"title":"2-Theta - Scale","titleFontSize":16,"titleFontWeight":"normal","titleColor":"#000","titlePadding":5,
    "values":[16,17,18,19,20,21,22,23,24,25,26,27,28,29,30,31,32,33,34,35,36,37,38,39,40,41,42,43,44,45,46,47,48,49,50,51,52,53,54,55,56,57,58,59,60,61,62,63,64,65,66,67,68,69,70,71,72,73,74,75,76,77,78],
    "labelExpr":"(datum.value == 16 || datum.value % 10 == 0) ? datum.label : ''",
    "labelOverlap":false,"labelFlush":false,"labelFontSize":7,"labelColor":"#444","labelPadding":8,
    "ticks":true,"tickSize":9,"tickColor":"#555","domainColor":"#555","grid":false,
    "encode":{"ticks":{"update":{"y2":{"signal":"datum.value % 5 === 0 ? 9 : 5"}}}}}},
  "y":{"field":"y","type":"quantitative","axis":{"title":"Lin (Cps)","titleFontSize":14,"titleFontWeight":"normal","titleColor":"#000","titlePadding":9,
    "values":[0,0.5,1,1.5,2,2.5,3,3.5,4,4.5,5,5.5,6,6.5,7,7.5,8,8.5,9,9.5,10,10.5,11,11.5,12,12.5,13,13.5,14,14.5,15,15.5,16,16.5,17,17.5,18,18.5,19,19.5,20,20.5,21,21.5,22,22.5,23,23.5,24,24.5,25,25.5],
    "labelExpr":"datum.value % 1 == 0 ? format(datum.value, 'd') : ''",
    "labelOverlap":false,"labelFlush":false,"labelFontSize":7,"labelColor":"#444","labelPadding":10,
    "ticks":true,"tickSize":9,"tickColor":"#555","domainColor":"#555","grid":false,
    "encode":{"ticks":{"update":{"x2":{"signal":"datum.value % 1 === 0 ? -9 : -5"}}}}}},
  "x2":{"field":"t2"},
  "y2":{"field":"y2"}
 }},
{"data":{"name":"arrows"},
 "transform":[{"calculate":"atan2((datum.t2-datum.t)*14.69,(datum.y2-datum.y)*17.37)*180/PI","as":"ang"}],
 "mark":{"type":"point","shape":"triangle-up","filled":true,"color":"#111","size":70,"opacity":1},
 "encoding":{
  "x":{"field":"t2","type":"quantitative","axis":{"title":"2-Theta - Scale","titleFontSize":16,"titleFontWeight":"normal","titleColor":"#000","titlePadding":5,
    "values":[16,17,18,19,20,21,22,23,24,25,26,27,28,29,30,31,32,33,34,35,36,37,38,39,40,41,42,43,44,45,46,47,48,49,50,51,52,53,54,55,56,57,58,59,60,61,62,63,64,65,66,67,68,69,70,71,72,73,74,75,76,77,78],
    "labelExpr":"(datum.value == 16 || datum.value % 10 == 0) ? datum.label : ''",
    "labelOverlap":false,"labelFlush":false,"labelFontSize":7,"labelColor":"#444","labelPadding":8,
    "ticks":true,"tickSize":9,"tickColor":"#555","domainColor":"#555","grid":false,
    "encode":{"ticks":{"update":{"y2":{"signal":"datum.value % 5 === 0 ? 9 : 5"}}}}}},
  "y":{"field":"y2","type":"quantitative","axis":{"title":"Lin (Cps)","titleFontSize":14,"titleFontWeight":"normal","titleColor":"#000","titlePadding":9,
    "values":[0,0.5,1,1.5,2,2.5,3,3.5,4,4.5,5,5.5,6,6.5,7,7.5,8,8.5,9,9.5,10,10.5,11,11.5,12,12.5,13,13.5,14,14.5,15,15.5,16,16.5,17,17.5,18,18.5,19,19.5,20,20.5,21,21.5,22,22.5,23,23.5,24,24.5,25,25.5],
    "labelExpr":"datum.value % 1 == 0 ? format(datum.value, 'd') : ''",
    "labelOverlap":false,"labelFlush":false,"labelFontSize":7,"labelColor":"#444","labelPadding":10,
    "ticks":true,"tickSize":9,"tickColor":"#555","domainColor":"#555","grid":false,
    "encode":{"ticks":{"update":{"x2":{"signal":"datum.value % 1 === 0 ? -9 : -5"}}}}}},
  "angle":{"field":"ang","type":"quantitative","scale":null}
 }},
{"data":{"name":"notes"},
 "mark":{"type":"text","fontSize":21,"fontWeight":"bold","color":"#000","align":"center","baseline":"middle"},
 "encoding":{
  "x":{"field":"t","type":"quantitative","axis":{"title":"2-Theta - Scale","titleFontSize":16,"titleFontWeight":"normal","titleColor":"#000","titlePadding":5,
    "values":[16,17,18,19,20,21,22,23,24,25,26,27,28,29,30,31,32,33,34,35,36,37,38,39,40,41,42,43,44,45,46,47,48,49,50,51,52,53,54,55,56,57,58,59,60,61,62,63,64,65,66,67,68,69,70,71,72,73,74,75,76,77,78],
    "labelExpr":"(datum.value == 16 || datum.value % 10 == 0) ? datum.label : ''",
    "labelOverlap":false,"labelFlush":false,"labelFontSize":7,"labelColor":"#444","labelPadding":8,
    "ticks":true,"tickSize":9,"tickColor":"#555","domainColor":"#555","grid":false,
    "encode":{"ticks":{"update":{"y2":{"signal":"datum.value % 5 === 0 ? 9 : 5"}}}}}},
  "y":{"field":"y","type":"quantitative","axis":{"title":"Lin (Cps)","titleFontSize":14,"titleFontWeight":"normal","titleColor":"#000","titlePadding":9,
    "values":[0,0.5,1,1.5,2,2.5,3,3.5,4,4.5,5,5.5,6,6.5,7,7.5,8,8.5,9,9.5,10,10.5,11,11.5,12,12.5,13,13.5,14,14.5,15,15.5,16,16.5,17,17.5,18,18.5,19,19.5,20,20.5,21,21.5,22,22.5,23,23.5,24,24.5,25,25.5],
    "labelExpr":"datum.value % 1 == 0 ? format(datum.value, 'd') : ''",
    "labelOverlap":false,"labelFlush":false,"labelFontSize":7,"labelColor":"#444","labelPadding":10,
    "ticks":true,"tickSize":9,"tickColor":"#555","domainColor":"#555","grid":false,
    "encode":{"ticks":{"update":{"x2":{"signal":"datum.value % 1 === 0 ? -9 : -5"}}}}}},
  "text":{"field":"lab"}
 }}
],
"resolve":{"scale":{"color":"independent"}}
}
